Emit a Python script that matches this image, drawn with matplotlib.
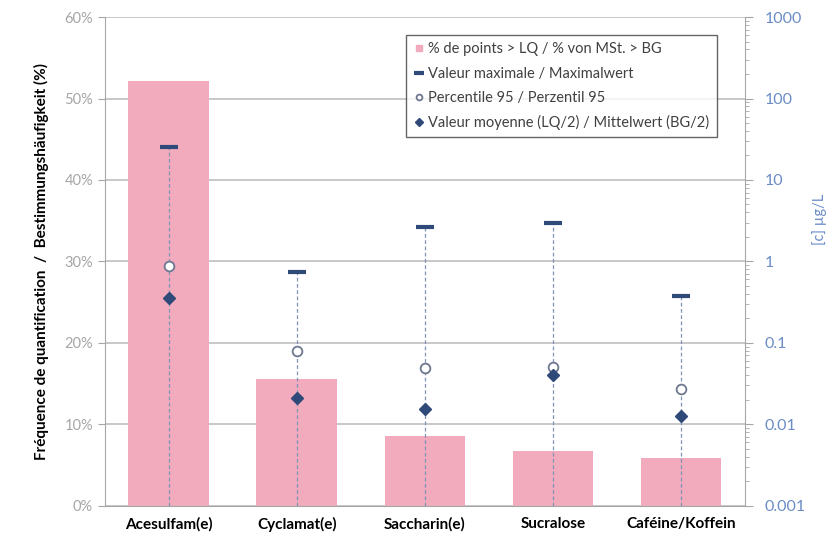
import matplotlib.pyplot as plt
from matplotlib.lines import Line2D
from matplotlib.ticker import PercentFormatter, FixedLocator, LogLocator, NullFormatter

plt.rcParams['font.family'] = ['Lato', 'DejaVu Sans']

# data
substances = ['Acesulfam(e)', 'Cyclamat(e)', 'Saccharin(e)', 'Sucralose', 'Caféine/Koffein']
freq_pct = [52.1, 15.6, 8.5, 6.7, 5.9]          # % de points > LQ
max_val = [25.4, 0.74, 2.65, 2.97, 0.38]        # µg/L
p95_val = [0.88, 0.080, 0.049, 0.051, 0.027]    # µg/L
mean_val = [0.356, 0.021, 0.0155, 0.040, 0.0127]  # µg/L

bar_col = '#f2abbd'
mark_col = '#2f4a78'
axis_blue = '#6a8cc6'
grey = '#a6a6a6'

fig = plt.figure(figsize=(8.38, 5.34), dpi=100)
ax = fig.add_axes([0.125, 0.053, 0.764, 0.915])
x = list(range(len(substances)))

ax.bar(x, freq_pct, width=0.63, color=bar_col, zorder=2,
       label='% de points > LQ / % von MSt. > BG')
ax.set_ylim(0, 60)
ax.set_xlim(-0.5, len(substances) - 0.5)
ax.yaxis.set_major_locator(FixedLocator([0, 10, 20, 30, 40, 50, 60]))
ax.yaxis.set_major_formatter(PercentFormatter(decimals=0))
ax.grid(axis='y', color='#bfbfbf', linewidth=1.2, zorder=0)
ax.set_axisbelow(True)
ax.set_xticks(x)
ax.set_xticklabels(substances, fontsize=11, fontweight='bold')
ax.tick_params(axis='x', length=0, pad=8)
ax.tick_params(axis='y', colors=grey, labelsize=10.5, length=5, direction='out')
ax.set_ylabel('Fréquence de quantification  /  Bestimmungshäufigkeit (%)',
              fontsize=11, fontweight='bold', labelpad=11)
for s in ['left', 'bottom']:
    ax.spines[s].set_color(grey)
ax.spines['top'].set_visible(False)
ax.spines['right'].set_visible(False)

ax2 = ax.twinx()
ax2.set_yscale('log')
ax2.set_ylim(0.001, 1000)
ax2.set_xlim(-0.5, len(substances) - 0.5)
for i in x:
    ax2.plot([i, i], [0.001, max_val[i]], linestyle=(0, (3, 2)), color='#7f93b8',
             linewidth=0.9, zorder=3)
ax2.plot(x, max_val, linestyle='none', marker='_', markersize=13, markeredgewidth=3,
         color=mark_col, label='Valeur maximale / Maximalwert', zorder=4)
ax2.plot(x, p95_val, linestyle='none', marker='o', markersize=7, markerfacecolor='white',
         markeredgecolor='#6d7890', markeredgewidth=1.3,
         label='Percentile 95 / Perzentil 95', zorder=4)
ax2.plot(x, mean_val, linestyle='none', marker='D', markersize=6.5, color=mark_col,
         label='Valeur moyenne (LQ/2) / Mittelwert (BG/2)', zorder=5)

ax2.yaxis.set_major_locator(FixedLocator([0.001, 0.01, 0.1, 1, 10, 100, 1000]))
ax2.set_yticklabels(['0.001', '0.01', '0.1', '1', '10', '100', '1000'])
ax2.yaxis.set_minor_locator(LogLocator(base=10, subs=range(2, 10), numticks=20))
ax2.yaxis.set_minor_formatter(NullFormatter())
ax2.tick_params(axis='y', which='major', colors=grey, labelcolor=axis_blue,
                labelsize=11.5, length=6, pad=8)
ax2.tick_params(axis='y', which='minor', colors=grey, length=3)
ax2.set_ylabel('[c] µg/L', color=axis_blue, fontsize=10.5)
ax2.yaxis.set_label_coords(1.105, 0.585)
ax2.spines['right'].set_color(grey)
for s in ['top', 'left', 'bottom']:
    ax2.spines[s].set_visible(False)

h1, l1 = ax.get_legend_handles_labels()
h2, l2 = ax2.get_legend_handles_labels()
bar_handle = Line2D([], [], linestyle='none', marker='s', markersize=7, color=bar_col)
leg = ax2.legend([bar_handle] + h2, l1 + l2, loc='upper right',
                 bbox_to_anchor=(0.967, 0.978), fontsize=10.5, frameon=True,
                 fancybox=False, edgecolor='#404040', handlelength=0.7,
                 handletextpad=0.3, borderpad=0.5, labelspacing=0.7,
                 markerscale=0.6)
leg.get_frame().set_linewidth(1.0)
for t in leg.get_texts():
    t.set_color('#404040')

fig.savefig('out.png', dpi=100)
